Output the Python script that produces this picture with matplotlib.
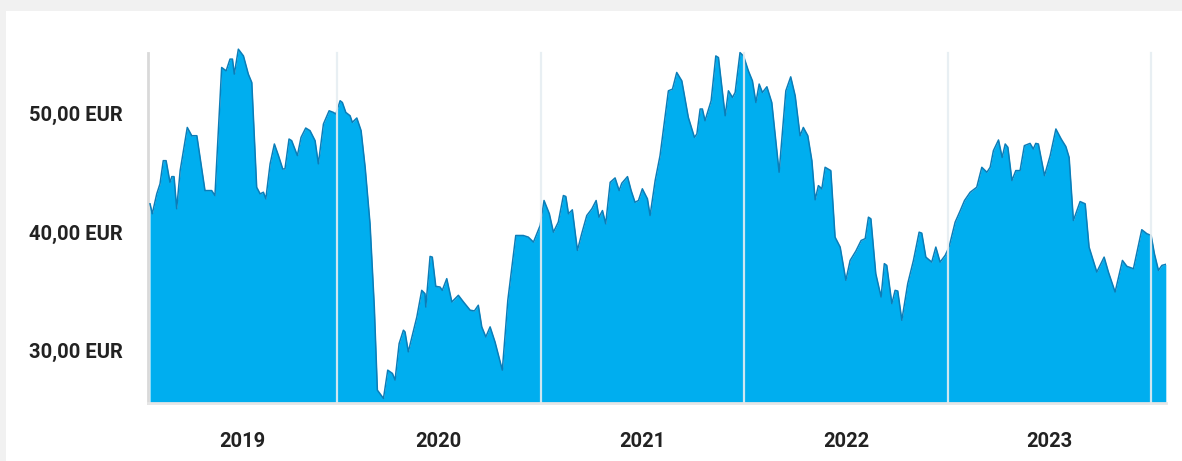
import matplotlib.pyplot as plt
import matplotlib.patches as mpatches
import numpy as np

# Share price (EUR), dates as decimal years
dates = [
    2019.081, 2019.092, 2019.114, 2019.130, 2019.146, 2019.160, 2019.179, 2019.188, 2019.199, 2019.212,
    2019.229, 2019.264, 2019.286, 2019.311, 2019.351, 2019.384, 2019.400, 2019.433, 2019.455, 2019.474,
    2019.486, 2019.495, 2019.515, 2019.540, 2019.564, 2019.581, 2019.605, 2019.622, 2019.638, 2019.650,
    2019.671, 2019.692, 2019.712, 2019.733, 2019.744, 2019.764, 2019.777, 2019.805, 2019.823, 2019.846,
    2019.867, 2019.892, 2019.908, 2019.933, 2019.961, 2019.982, 2019.994, 2020.015, 2020.026, 2020.043,
    2020.064, 2020.075, 2020.097, 2020.118, 2020.138, 2020.162, 2020.183, 2020.198, 2020.228, 2020.249,
    2020.272, 2020.285, 2020.305, 2020.326, 2020.334, 2020.350, 2020.392, 2020.416, 2020.432, 2020.436,
    2020.457, 2020.468, 2020.485, 2020.506, 2020.517, 2020.539, 2020.564, 2020.596, 2020.621, 2020.654,
    2020.675, 2020.694, 2020.711, 2020.731, 2020.752, 2020.776, 2020.812, 2020.839, 2020.855, 2020.878,
    2020.915, 2020.940, 2020.965, 2020.998, 2021.017, 2021.043, 2021.063, 2021.087, 2021.112, 2021.124,
    2021.137, 2021.156, 2021.181, 2021.202, 2021.227, 2021.252, 2021.273, 2021.287, 2021.304, 2021.320,
    2021.342, 2021.366, 2021.386, 2021.399, 2021.427, 2021.445, 2021.464, 2021.481, 2021.500, 2021.525,
    2021.538, 2021.563, 2021.587, 2021.607, 2021.628, 2021.648, 2021.669, 2021.694, 2021.726, 2021.756,
    2021.768, 2021.784, 2021.795, 2021.808, 2021.838, 2021.861, 2021.874, 2021.907, 2021.923, 2021.943,
    2021.956, 2021.980, 2021.997, 2022.021, 2022.041, 2022.058, 2022.074, 2022.090, 2022.112, 2022.136,
    2022.172, 2022.205, 2022.229, 2022.251, 2022.275, 2022.291, 2022.313, 2022.333, 2022.349, 2022.365,
    2022.382, 2022.398, 2022.426, 2022.447, 2022.472, 2022.500, 2022.521, 2022.549, 2022.575, 2022.595,
    2022.611, 2022.623, 2022.647, 2022.673, 2022.689, 2022.701, 2022.726, 2022.742, 2022.755, 2022.775,
    2022.804, 2022.832, 2022.860, 2022.873, 2022.893, 2022.922, 2022.942, 2022.963, 2022.988, 2023.007,
    2023.037, 2023.061, 2023.083, 2023.111, 2023.143, 2023.168, 2023.193, 2023.209, 2023.225, 2023.250,
    2023.268, 2023.283, 2023.296, 2023.316, 2023.335, 2023.356, 2023.377, 2023.405, 2023.421, 2023.433,
    2023.446, 2023.476, 2023.504, 2023.532, 2023.558, 2023.581, 2023.597, 2023.618, 2023.651, 2023.676,
    2023.695, 2023.733, 2023.769, 2023.790, 2023.823, 2023.859, 2023.881, 2023.913, 2023.954, 2023.979,
    2024.000, 2024.016, 2024.036, 2024.053, 2024.072,
]
prices = [
    42.38, 41.54, 43.22, 44.07, 46.03, 46.03, 44.20, 44.68, 44.68, 41.96,
    45.19, 48.84, 48.14, 48.14, 43.50, 43.50, 43.08, 53.91, 53.63, 54.62,
    54.62, 53.35, 55.46, 54.89, 53.35, 52.64, 43.78, 43.22, 43.36, 42.80,
    45.76, 47.44, 46.46, 45.33, 45.33, 47.86, 47.72, 46.46, 48.00, 48.79,
    48.57, 47.72, 45.76, 49.13, 50.25, 50.11, 49.97, 51.10, 50.95, 50.11,
    49.83, 49.27, 49.64, 48.57, 45.47, 40.69, 33.65, 26.62, 25.92, 28.31,
    28.03, 27.47, 30.56, 31.69, 31.54, 29.86, 32.81, 35.06, 34.78, 33.65,
    37.93, 37.87, 35.40, 35.34, 35.06, 36.05, 34.08, 34.64, 34.08, 33.38,
    33.32, 33.80, 31.97, 31.12, 31.97, 30.70, 28.31, 34.22, 36.47, 39.70,
    39.70, 39.56, 39.14, 40.55, 42.66, 41.54, 39.98, 40.83, 43.08, 43.00,
    41.54, 41.87, 38.44, 39.85, 41.39, 41.96, 42.66, 41.25, 41.81, 40.69,
    44.20, 44.57, 43.50, 44.12, 44.68, 43.50, 42.51, 42.66, 43.65, 42.80,
    41.39, 44.35, 46.46, 49.13, 51.94, 52.08, 53.49, 52.78, 49.69, 48.00,
    48.29, 50.40, 50.40, 49.41, 51.10, 54.89, 54.75, 49.83, 51.94, 51.38,
    51.80, 55.17, 54.89, 53.63, 52.78, 50.95, 52.51, 51.80, 52.28, 50.95,
    45.05, 51.94, 53.12, 51.52, 48.14, 48.84, 48.14, 46.03, 42.72, 43.92,
    43.65, 45.47, 45.19, 39.56, 38.72, 35.91, 37.59, 38.38, 39.28, 39.43,
    41.25, 41.11, 36.47, 34.50, 37.32, 37.17, 33.94, 35.06, 35.00, 32.53,
    35.63, 37.59, 39.98, 39.90, 37.87, 37.45, 38.72, 37.45, 38.02, 38.72,
    40.83, 41.76, 42.66, 43.36, 43.78, 45.47, 45.05, 45.47, 46.88, 47.78,
    46.30, 47.44, 47.16, 44.35, 45.19, 45.19, 47.30, 47.49, 47.02, 47.49,
    47.44, 44.77, 46.46, 48.71, 47.86, 47.22, 46.31, 40.97, 42.57, 42.38,
    38.72, 36.61, 37.87, 36.61, 34.92, 37.59, 37.09, 36.89, 40.19, 39.85,
    39.70, 38.16, 36.75, 37.17, 37.26,
]

year_labels = ['2019', '2020', '2021', '2022', '2023']
year_starts = [2020, 2021, 2022, 2023, 2024]
y_ticks = [30, 40, 50]
y_tick_labels = ['30,00 EUR', '40,00 EUR', '50,00 EUR']

x_min, x_max = 2019.071, 2024.073
y_min, y_max = 25.53, 55.56

fig = plt.figure(figsize=(11.82, 4.61), dpi=100)

# card look: light grey frame on top / left
fig.patches.append(mpatches.Rectangle((0, 0), 1, 1, transform=fig.transFigure,
                                      facecolor='#f1f1f1', edgecolor='none', zorder=-2))
fig.patches.append(mpatches.Rectangle((6 / 1182, 0), 1, 1 - 11 / 461, transform=fig.transFigure,
                                      facecolor='white', edgecolor='none', zorder=-1))

ax = fig.add_axes([148 / 1182, 58 / 461, 1018 / 1182, 355 / 461])
ax.set_facecolor('none')

ax.fill_between(dates, prices, y_min, color='#00aeef', linewidth=0, zorder=2)
ax.plot(dates, prices, color='#0b7db8', linewidth=1.1, zorder=3)

# year separators drawn over the area
for xs in year_starts:
    ax.plot([xs, xs], [y_min, 55.15], color='#e6eef2', linewidth=1.6, alpha=0.9, zorder=4)

ax.set_xlim(x_min, x_max)
ax.set_ylim(y_min, y_max)

ax.set_yticks(y_ticks)
ax.set_yticklabels(y_tick_labels)

mids = [(max(x_min, s - 1) + min(x_max, s)) / 2 for s in year_starts]
ax.set_xticks(mids)
ax.set_xticklabels(year_labels)

ax.tick_params(axis='both', length=0, labelsize=14.5, colors='#222222')
ax.tick_params(axis='y', pad=18)
ax.tick_params(axis='x', pad=21)
for lab in ax.get_xticklabels() + ax.get_yticklabels():
    lab.set_fontfamily('Roboto')
    lab.set_fontweight('bold')

for s in ['top', 'right']:
    ax.spines[s].set_visible(False)
ax.spines['left'].set_color('#d9d9d9')
ax.spines['left'].set_linewidth(2)
ax.spines['left'].set_bounds(y_min, 55.15)
ax.spines['bottom'].set_color('#e6e6e6')
ax.spines['bottom'].set_linewidth(2)
ax.spines['bottom'].set_zorder(5)

fig.savefig('out.png', dpi=100)
